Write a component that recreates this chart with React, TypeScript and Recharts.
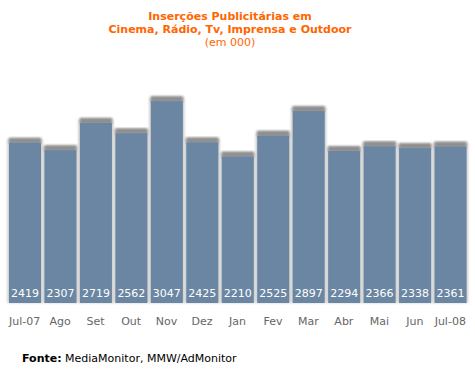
import React from "react";
import { BarChart, Bar, XAxis, YAxis, LabelList } from "recharts";

const months = ["Jul-07", "Ago", "Set", "Out", "Nov", "Dez", "Jan", "Fev", "Mar", "Abr", "Mai", "Jun", "Jul-08"];
const insercoes = [2419, 2307, 2719, 2562, 3047, 2425, 2210, 2525, 2897, 2294, 2366, 2338, 2361];

const data = months.map((m, i) => ({ name: m, total: insercoes[i] }));

const FONT = "'DejaVu Sans', Verdana, sans-serif";

const ShadowBar = (props: any) => {
  const { x, y, width, height } = props;
  return (
    <g>
      <rect x={x - 1.5} y={y - 4} width={width + 3} height={height + 4} fill="#c8c8c8" filter="url(#soft)" />
      <rect x={x} y={y - 5} width={width} height={6} fill="#8f8f8f" filter="url(#soft)" />
      <rect x={x} y={y} width={width} height={height} fill="#6a86a3" />
    </g>
  );
};

export default function App() {
  return (
    <div style={{ position: "absolute", left: 0, top: 0, width: 475, height: 373, background: "#fff", fontFamily: FONT }}>
      <div style={{ position: "absolute", left: 0, width: 460, top: 10, textAlign: "center", color: "#ff6600", fontSize: 11, lineHeight: "13px" }}>
        <div style={{ fontWeight: "bold" }}>Inserções Publicitárias em</div>
        <div style={{ fontWeight: "bold" }}>Cinema, Rádio, Tv, Imprensa e Outdoor</div>
        <div>(em 000)</div>
      </div>
      <BarChart width={475} height={373} data={data} margin={{ top: 91, right: 7, bottom: 40, left: 7 }}>
        <defs>
          <filter id="soft" x="-20%" y="-20%" width="140%" height="140%">
            <feGaussianBlur stdDeviation="1.2" />
          </filter>
        </defs>
        <XAxis
          dataKey="name"
          height={30}
          axisLine={false}
          tickLine={false}
          tickMargin={8}
          tick={{ fill: "#666666", fontSize: 11, fontFamily: FONT }}
          interval={0}
        />
        <YAxis hide domain={[0, 3200]} />
        <Bar dataKey="total" barSize={32} shape={<ShadowBar />} isAnimationActive={false}>
          <LabelList dataKey="total" position="insideBottom" offset={6} fill="#ffffff" fontSize={11} fontFamily={FONT} />
        </Bar>
      </BarChart>
      <div style={{ position: "absolute", left: 22, top: 352, fontSize: 11, color: "#000" }}>
        <b>Fonte:</b> MediaMonitor, MMW/AdMonitor
      </div>
    </div>
  );
}
